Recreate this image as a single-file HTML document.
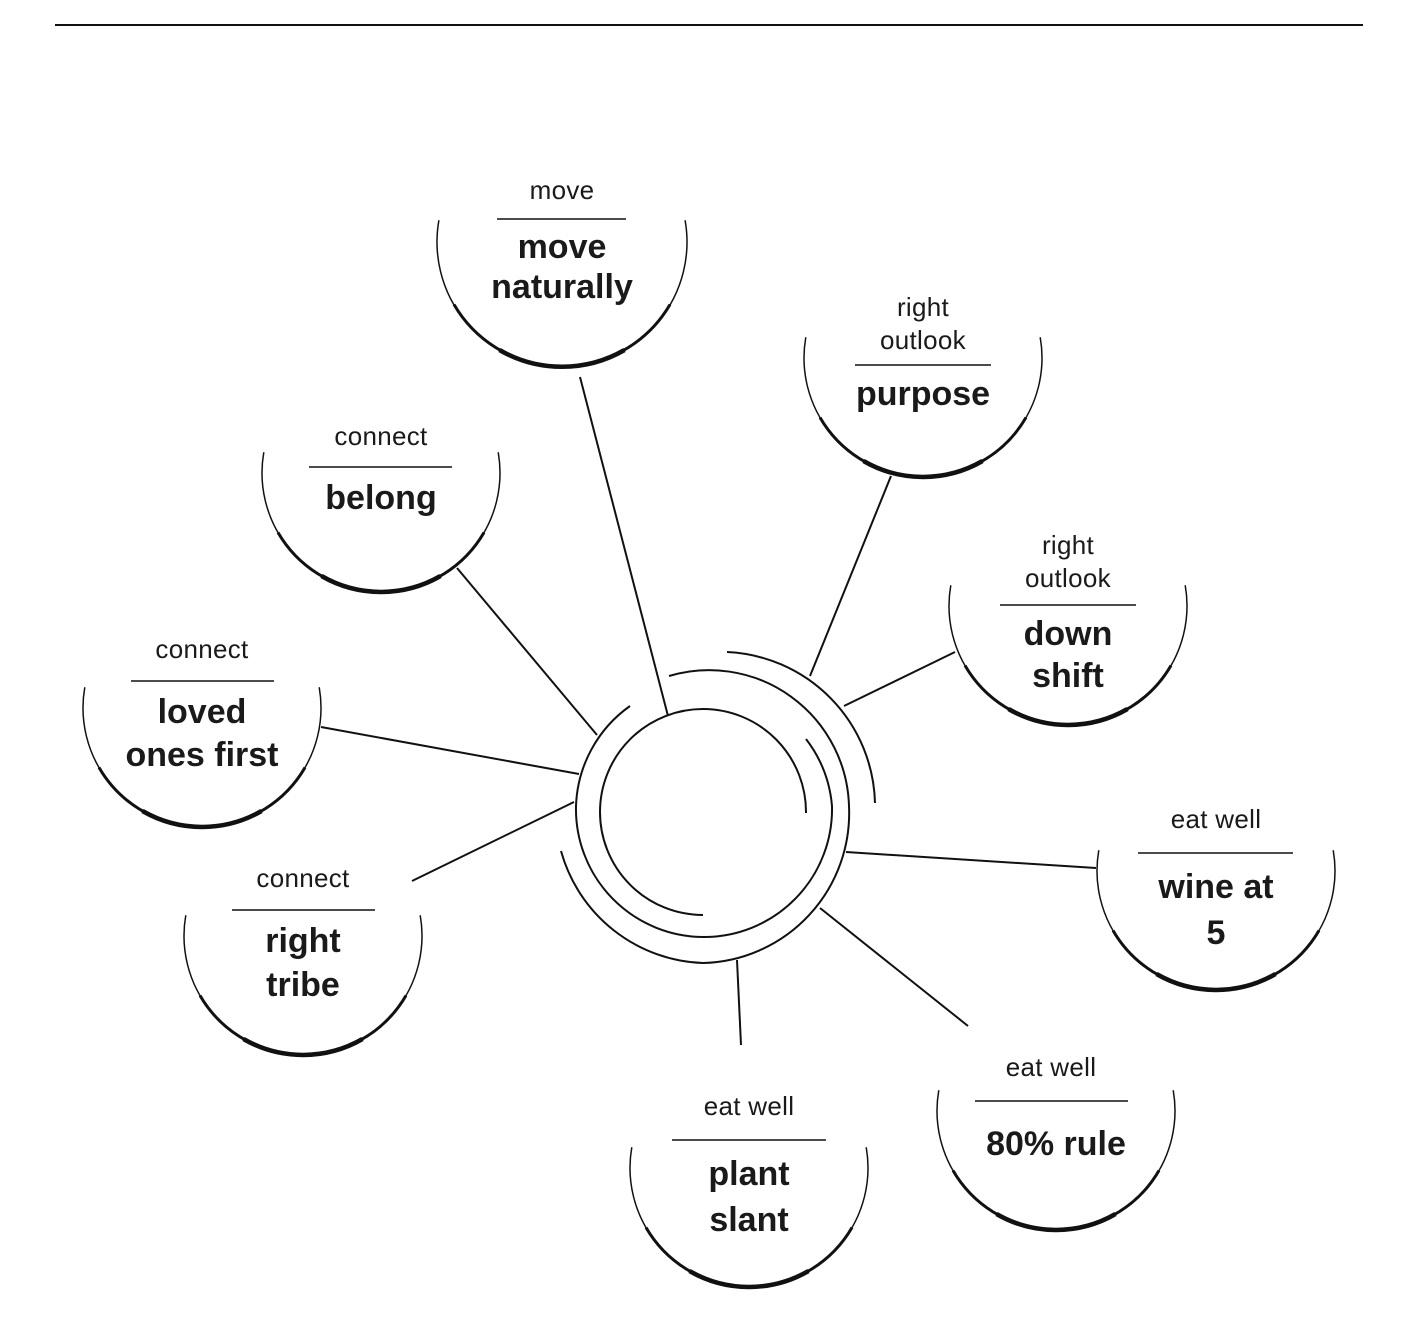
<!DOCTYPE html>
<html><head><meta charset="utf-8"><style>
html,body{margin:0;padding:0;background:#fff}
svg{display:block}
.l{font-family:"Liberation Sans",sans-serif;font-size:26px;fill:#1a1a1a;text-anchor:middle;letter-spacing:0.3px}
.t{font-family:"Liberation Sans",sans-serif;font-size:34px;font-weight:bold;fill:#1a1a1a;text-anchor:middle}
</style></head><body>
<svg width="1404" height="1329" viewBox="0 0 1404 1329" xmlns="http://www.w3.org/2000/svg">
<line x1="55" y1="25" x2="1363" y2="25" stroke="#111" stroke-width="2"/>
<g stroke="#111" fill="none" stroke-width="2">
<line x1="580" y1="377" x2="668" y2="716"/>
<line x1="891" y1="476" x2="810" y2="676"/>
<line x1="457" y1="568" x2="597" y2="735"/>
<line x1="955" y1="652" x2="844" y2="706"/>
<line x1="321" y1="727" x2="579" y2="774"/>
<line x1="412" y1="881" x2="574" y2="802"/>
<line x1="846" y1="852" x2="1096" y2="868"/>
<line x1="820" y1="908" x2="968" y2="1026"/>
<line x1="737" y1="960" x2="741" y2="1045"/>
<path d="M806,813 A103,103 0 1 0 703,915"/>
<path d="M806,739 A128,128 0 0 1 832,806 A128,128 0 0 1 704,937 A128,128 0 0 1 576,806 A128,128 0 0 1 630,706"/>
<path d="M669,676 A140,140 0 0 1 849,806 A150,150 0 0 1 703,963 A153,153 0 0 1 561,851"/>
<path d="M727,652 A155,155 0 0 1 875,803"/>
<line x1="497" y1="219" x2="626" y2="219" stroke-width="1.5"/>
<line x1="855" y1="365" x2="991" y2="365" stroke-width="1.5"/>
<line x1="309" y1="467" x2="452" y2="467" stroke-width="1.5"/>
<line x1="1000" y1="605" x2="1136" y2="605" stroke-width="1.5"/>
<line x1="131" y1="681" x2="274" y2="681" stroke-width="1.5"/>
<line x1="1138" y1="853" x2="1293" y2="853" stroke-width="1.5"/>
<line x1="232" y1="910" x2="375" y2="910" stroke-width="1.5"/>
<line x1="975" y1="1101" x2="1128" y2="1101" stroke-width="1.5"/>
<line x1="672" y1="1140" x2="826" y2="1140" stroke-width="1.5"/>
</g>
<defs>
<g id="n" fill="none" stroke="#111">
<path d="M-117.2,-20.7 A119,119 0 1 0 117.2,-20.7" stroke-width="1.5"/>
<path d="M-103,59.5 A119,119 0 0 0 103,59.5" stroke-width="3"/>
<path d="M-59.5,103 A119,119 0 0 0 59.5,103" stroke-width="4.5"/>
</g>
<g id="m" fill="none" stroke="#111">
<path d="M-123.1,-21.7 A125,125 0 1 0 123.1,-21.7" stroke-width="1.5"/>
<path d="M-108,62.5 A125,125 0 0 0 108,62.5" stroke-width="3"/>
<path d="M-62.5,108 A125,125 0 0 0 62.5,108" stroke-width="4.5"/>
</g>
</defs>
<use href="#m" x="562" y="242"/>
<use href="#n" x="923" y="358"/>
<use href="#n" x="381" y="473"/>
<use href="#n" x="1068" y="606"/>
<use href="#n" x="202" y="708"/>
<use href="#n" x="1216" y="871"/>
<use href="#n" x="303" y="936"/>
<use href="#n" x="1056" y="1111"/>
<use href="#n" x="749" y="1168"/>

<text class="l" x="562" y="199">move</text>
<text class="t" x="562" y="258">move</text>
<text class="t" x="562" y="298">naturally</text>

<text class="l" x="923" y="316">right</text>
<text class="l" x="923" y="349">outlook</text>
<text class="t" x="923" y="405">purpose</text>

<text class="l" x="381" y="445">connect</text>
<text class="t" x="381" y="509">belong</text>

<text class="l" x="1068" y="554">right</text>
<text class="l" x="1068" y="587">outlook</text>
<text class="t" x="1068" y="645">down</text>
<text class="t" x="1068" y="687">shift</text>

<text class="l" x="202" y="658">connect</text>
<text class="t" x="202" y="723">loved</text>
<text class="t" x="202" y="766">ones first</text>

<text class="l" x="1216" y="828">eat well</text>
<text class="t" x="1216" y="898">wine at</text>
<text class="t" x="1216" y="944">5</text>

<text class="l" x="303" y="887">connect</text>
<text class="t" x="303" y="952">right</text>
<text class="t" x="303" y="996">tribe</text>

<text class="l" x="1051" y="1076">eat well</text>
<text class="t" x="1056" y="1155">80% rule</text>

<text class="l" x="749" y="1115">eat well</text>
<text class="t" x="749" y="1185">plant</text>
<text class="t" x="749" y="1231">slant</text>
</svg>
</body></html>
